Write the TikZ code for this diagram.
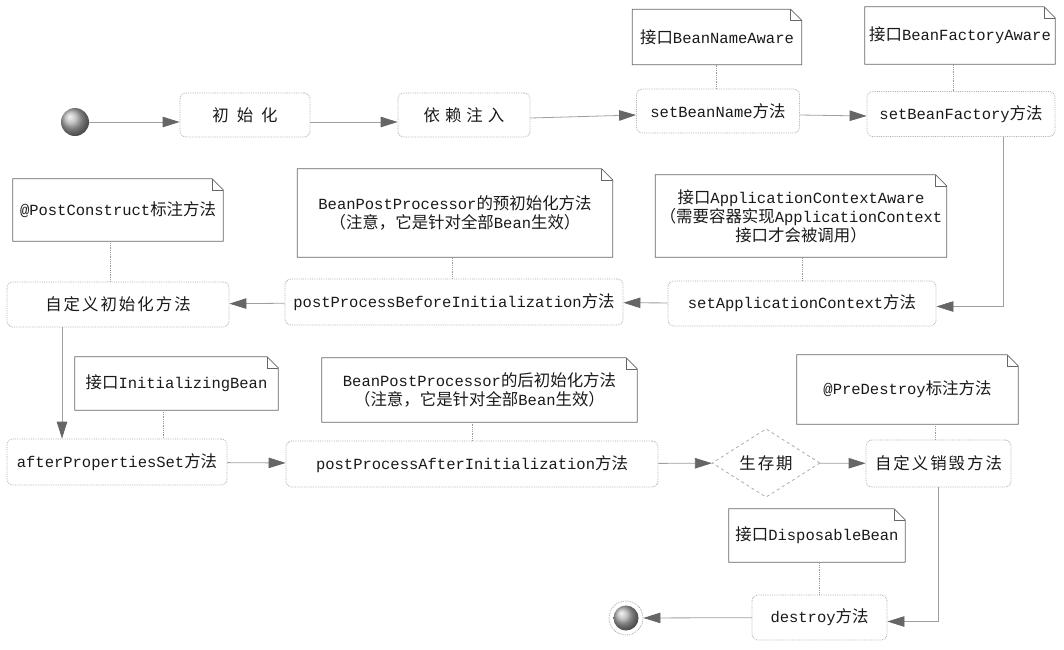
\documentclass[tikz,border=0pt]{standalone}
\usepackage{fontspec}
\setmainfont{Liberation Mono}
\newfontfamily\cjk[Scale=1.06]{Noto Sans CJK SC}
\usetikzlibrary{arrows.meta,shapes.geometric}
\newcommand\zh[1]{{\cjk #1}}
\newcommand\gp[1]{\hspace{#1pt}}
\begin{document}
\begin{tikzpicture}[x=1pt,y=-1pt,
  font=\fontsize{15.5}{19}\selectfont,
  act/.style={draw=gray!65, densely dotted, line width=0.8pt, rounded corners=6pt,
    inner sep=0pt, align=center, text=black!90},
  note/.style={inner sep=0pt, align=center, text=black!90},
  noteline/.style={draw=black!60, line width=0.8pt, line join=miter},
  flow/.style={draw=gray!75, line width=0.8pt, -{Triangle[length=17pt,width=10.5pt,color=black!60]}},
  link/.style={draw=gray!80, densely dotted, line width=0.8pt},
]
\useasboundingbox (0,0) rectangle (1064,649);

% start
\node[circle, inner sep=0pt, minimum size=28pt, shading=ball, ball color=gray!60] (start) at (75,122) {};

% row 1
\node[act, minimum width=130pt, minimum height=44pt] (init) at (245,115) {\zh{初\gp{8}始\gp{8}化}};
\node[act, minimum width=132pt, minimum height=44pt] (dep) at (464,115) {\zh{依\gp{5}赖\gp{5}注\gp{5}入}};
\node[act, minimum width=163pt, minimum height=44pt] (sbn) at (718,111) {setBeanName\zh{方法}};
\node[act, minimum width=188pt, minimum height=45pt] (sbf) at (961,114) {setBeanFactory\zh{方法}};
\node[note, minimum width=169pt, minimum height=55pt] (nsbn) at (717,37) {\zh{接口}BeanNameAware};
\node[note, minimum width=190pt, minimum height=57pt] (nsbf) at (960,35.5) {\zh{接口}BeanFactoryAware};

% row 2
\node[act, minimum width=268pt, minimum height=45pt] (sac) at (802,303.5) {setApplicationContext\zh{方法}};
\node[note, minimum width=291pt, minimum height=82pt] (nsac) at (801,216)
  {\zh{接口}ApplicationContextAware\\\zh{（需要容器实现}ApplicationContext\\\zh{接口才会被调用）}};
\node[act, minimum width=338pt, minimum height=46pt] (ppb) at (454,302) {postProcessBeforeInitialization\zh{方法}};
\node[note, minimum width=315pt, minimum height=88pt] (nppb) at (455,213)
  {BeanPostProcessor\zh{的预初始化方法}\\\zh{（注意，它是针对全部}Bean\zh{生效）}};
\node[act, minimum width=222pt, minimum height=45pt] (cinit) at (118,304.5) {\zh{自\gp{2}定\gp{2}义\gp{2}初\gp{2}始\gp{2}化\gp{2}方\gp{2}法}};
\node[note, minimum width=210pt, minimum height=62pt] (npc) at (118,210) {@PostConstruct\zh{标注方法}};

% row 3
\node[act, minimum width=220pt, minimum height=46pt] (aps) at (117,462) {afterPropertiesSet\zh{方法}};
\node[note, minimum width=203pt, minimum height=53pt] (nib) at (176.5,383.5) {\zh{接口}InitializingBean};
\node[act, minimum width=372pt, minimum height=46pt] (ppa) at (472,464) {postProcessAfterInitialization\zh{方法}};
\node[note, minimum width=315pt, minimum height=64pt] (nppa) at (479.5,390)
  {BeanPostProcessor\zh{的后初始化方法}\\\zh{（注意，它是针对全部}Bean\zh{生效）}};
\node[diamond, draw=gray!65, dashed, line width=0.8pt, inner sep=0pt, minimum width=108pt, minimum height=66pt, text=black!90] (life) at (766,463) {\zh{生\gp{2}存\gp{2}期}};
\node[act, minimum width=145pt, minimum height=47pt] (cdes) at (938.5,463.5) {\zh{自\gp{2}定\gp{2}义\gp{2}销\gp{2}毁\gp{2}方\gp{2}法}};
\node[note, minimum width=221pt, minimum height=69pt] (npd) at (907.5,389.5) {@PreDestroy\zh{标注方法}};

% row 4
\node[act, minimum width=135pt, minimum height=45pt] (des) at (819.5,617.5) {destroy\zh{方法}};
\node[note, minimum width=176pt, minimum height=53pt] (ndb) at (817,535.5) {\zh{接口}DisposableBean};
\node[circle, draw=gray!70, densely dotted, line width=0.8pt, inner sep=0pt, minimum size=34pt] (end) at (626,618) {};
\node[circle, inner sep=0pt, minimum size=25pt, shading=ball, ball color=gray!60] (endin) at (end.center) {};

% note outlines with folded corner
\foreach \n in {nsbn,nsbf,nsac,nppb,npc,nib,nppa,npd,ndb}{
  \draw[noteline] (\n.south west) -- (\n.north west) -- ([xshift=-11pt]\n.north east)
     -- ([yshift=-11pt]\n.north east) -- (\n.south east) -- cycle;
  \draw[noteline, line width=0.5pt] ([xshift=-11pt]\n.north east) -- ([xshift=-11pt,yshift=-11pt]\n.north east)
     -- ([yshift=-11pt]\n.north east);
}

% note links
\draw[link] ([xshift=-2pt]sbn.north) -- ([xshift=-2pt]sbn.north |- nsbn.south);
\draw[link] ([xshift=-8pt]sbf.north) -- ([xshift=-8pt]sbf.north |- nsbf.south);
\draw[link] (sac.north) -- (sac.north |- nsac.south);
\draw[link] ([xshift=-2pt]ppb.north) -- ([xshift=-2pt]ppb.north |- nppb.south);
\draw[link] ([xshift=-8pt]cinit.north) -- ([xshift=-8pt]cinit.north |- npc.south);
\draw[link] ([xshift=-13.5pt]nib.south) -- ([xshift=-13.5pt]nib.south |- aps.north);
\draw[link] (ppa.north) -- (ppa.north |- nppa.south);
\draw[link] ([xshift=-3.5pt]cdes.north) -- ([xshift=-3.5pt]cdes.north |- npd.south);
\draw[link] (des.north) -- (des.north |- ndb.south);

% flow
\draw[flow] (start) -- (start -| init.west);
\draw[flow] (init.east |- start) -- (dep.west |- start);
\draw[flow] ([yshift=-3pt]dep.east) -- ([yshift=-4pt]sbn.west);
\draw[flow] ([yshift=-4pt]sbn.east) -- ([yshift=-2pt]sbf.west);
\draw[flow] ([xshift=42pt]sbf.south) |- ([yshift=-3pt]sac.east);
\draw[flow] (sac) -- (ppb);
\draw[flow] (ppb) -- (cinit);
\draw[flow] ([xshift=-56pt]cinit.south) -- ([xshift=-56pt]cinit.south |- aps.north);
\draw[flow] (aps) -- (ppa);
\draw[flow] (ppa) -- (life);
\draw[flow] (life) -- (cdes);
\draw[flow] (cdes.south) |- ([yshift=-4pt]des.east);
\draw[flow] (des) -- (end);
\end{tikzpicture}
\end{document}
